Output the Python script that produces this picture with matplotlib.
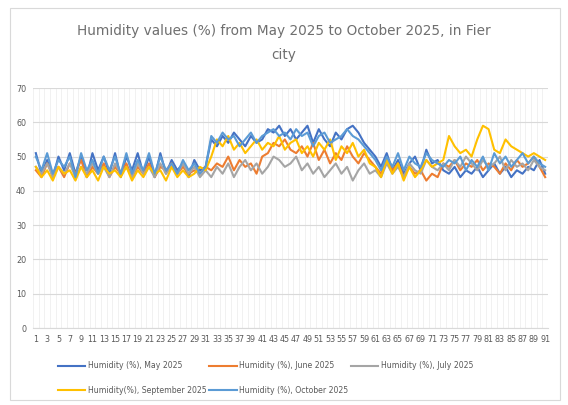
import matplotlib
matplotlib.use("Agg")
import matplotlib.pyplot as plt
from matplotlib.patches import Rectangle

days = list(range(1, 92))
tick_labels = [str(d) for d in days[::2]]
y_ticks = [0, 10, 20, 30, 40, 50, 60, 70]

may = [51,45,49,44,50,46,51,45,50,44,51,46,50,45,51,44,50,46,51,45,50,44,51,45,49,46,48,44,49,46,47,
       55,53,56,54,57,55,53,56,54,55,58,57,59,56,58,55,57,59,54,58,55,53,57,55,58,59,57,54,52,
       50,47,51,46,49,45,48,50,46,52,48,49,
       46,45,47,44,46,45,47,44,46,48,45,47,44,46,45,47,46,49,45]
june = [46,44,48,45,47,44,48,45,49,44,47,45,48,44,47,45,48,44,47,45,48,44,47,46,48,45,47,45,46,45,47,
        46,48,47,50,46,49,47,48,45,50,51,54,53,55,52,51,53,50,54,49,52,48,51,49,53,50,48,51,49,
        47,45,49,46,48,44,47,45,46,43,45,44,
        48,47,49,46,48,47,49,46,48,47,45,48,46,49,47,48,50,47,44]
july = [47,45,48,44,47,45,48,44,47,45,48,45,47,44,48,45,47,44,48,45,47,44,48,45,47,45,48,45,47,44,46,
        44,47,45,48,44,47,49,46,48,45,47,50,49,47,48,50,46,48,45,47,44,46,48,45,47,43,46,48,45,
        46,44,48,45,47,44,48,46,45,49,47,46,
        48,46,49,47,50,48,46,49,47,48,50,46,49,47,48,46,49,47,46]
september = [47,44,46,43,47,45,46,43,47,44,46,43,47,45,46,44,47,43,46,44,47,45,46,43,47,44,46,44,45,47,46,
             50,55,53,56,52,54,51,53,55,52,54,53,56,52,54,55,51,53,50,54,52,55,49,53,51,54,50,52,48,
             47,44,49,45,48,43,47,44,46,49,47,48,
             49,56,53,51,52,50,55,59,58,52,51,55,53,52,51,50,51,50,49]
october = [50,46,51,45,49,47,50,44,51,46,49,45,50,46,50,45,51,45,49,46,51,45,50,46,48,45,49,46,48,45,47,
           56,54,57,55,56,53,55,57,54,56,57,58,56,57,55,58,56,57,53,56,57,54,55,56,58,56,55,53,51,
           49,46,50,47,51,46,50,48,47,51,49,48,
           47,49,48,50,46,49,47,50,46,51,48,50,47,49,51,48,50,48,47]

series = [
    ("Humidity (%), May 2025", may, "#4472C4"),
    ("Humidity (%), June 2025", june, "#ED7D31"),
    ("Humidity (%), July 2025", july, "#A5A5A5"),
    ("Humidity(%), September 2025", september, "#FFC000"),
    ("Humidity (%), October 2025", october, "#5B9BD5"),
]

fig = plt.figure(figsize=(5.68, 4.05), dpi=100)
fig.patches.append(Rectangle((10/568, 5/405), 550/568, 392/405, transform=fig.transFigure,
                             fill=False, edgecolor="#D9D9D9", linewidth=0.8))
ax = fig.add_axes([33/568, (405-328)/405, 515/568, 240/405])

lines = []
for label, vals, color in series:
    ln, = ax.plot(days, vals, color=color, linewidth=1.5, label=label)
    lines.append(ln)

ax.set_xlim(0.5, 91.5)
ax.set_ylim(0, 70)
ax.set_yticks(y_ticks)
ax.set_xticks(days[::2])
ax.set_xticklabels(tick_labels)
ax.set_xticks([d + 0.5 for d in range(0, 92)], minor=True)
ax.tick_params(axis="both", which="both", length=0, labelsize=5.8, colors="#595959", pad=5)
ax.grid(axis="y", which="major", color="#D9D9D9", linewidth=0.8)
ax.grid(axis="x", which="minor", color="#EFEFEF", linewidth=0.6)
ax.set_axisbelow(True)
for s in ["top", "right", "left"]:
    ax.spines[s].set_visible(False)
ax.spines["bottom"].set_color("#D9D9D9")

fig.text(0.5, 1 - 43/405, "Humidity values (%) from May 2025 to October 2025, in Fier\ncity",
         ha="center", va="center", fontsize=9.8, color="#6F6F6F", linespacing=2.0)

order = [0, 3, 1, 4, 2]
fig.legend([lines[i] for i in order], [series[i][0] for i in order],
           loc="lower left", bbox_to_anchor=(58/568, 10/405), ncol=3, frameon=False,
           fontsize=5.6, handlelength=3.5, columnspacing=0.4, labelcolor="#595959",
           borderaxespad=0, borderpad=0, handletextpad=0.3, labelspacing=2.0)

fig.savefig("out.png", dpi=100)
